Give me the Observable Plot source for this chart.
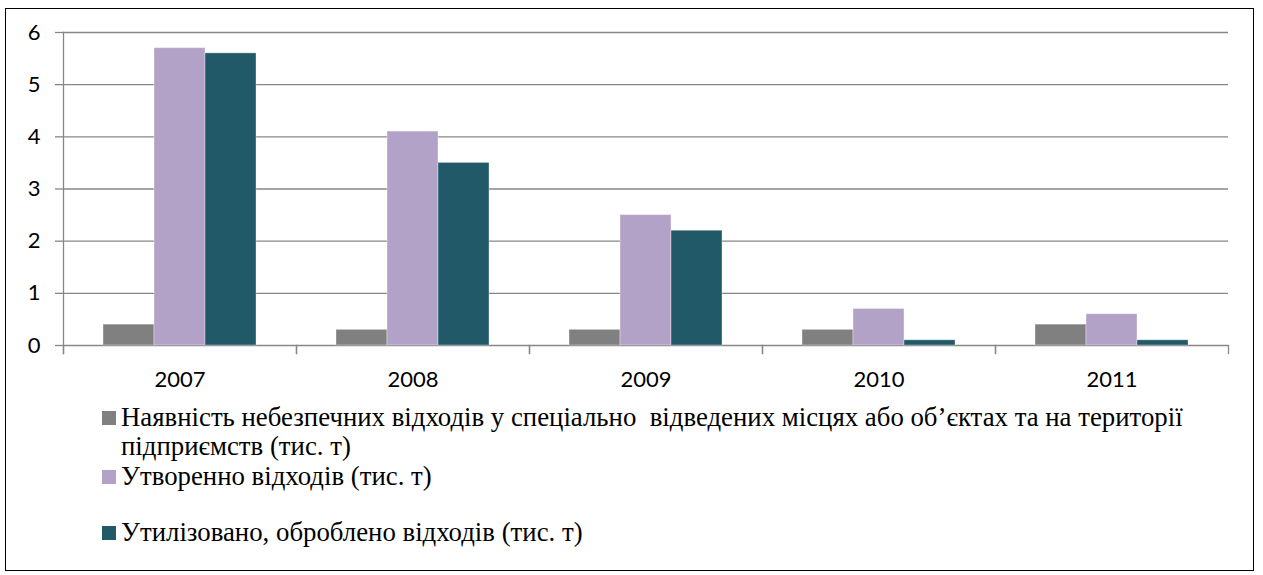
<!DOCTYPE html>
<html><head><meta charset="utf-8">
<script src="https://cdn.jsdelivr.net/npm/d3@7"></script>
<script src="https://cdn.jsdelivr.net/npm/@observablehq/plot@0.6"></script>
<style>
html,body{margin:0;padding:0;background:#fff;}
#wrap{position:relative;width:1263px;height:575px;overflow:hidden;}
#border{position:absolute;left:5px;top:8px;width:1249px;height:563px;box-sizing:border-box;border:1.5px solid #000;}
#chart{position:absolute;left:0;top:0;}
</style></head><body>
<div id="wrap">
  <div id="border"></div>
  <div id="chart"></div>
  <div id="legend" style="position:absolute;left:102px;top:0;color:#000;"></div>
</div>
<script>
const years = ["2007", "2008", "2009", "2010", "2011"];
const seriesNames = [
  "Наявність небезпечних відходів у спеціально  відведених місцях або об’єктах та на території підприємств (тис. т)",
  "Утворенно відходів (тис. т)",
  "Утилізовано, оброблено відходів (тис. т)"
];
const hazardous = [0.4, 0.3, 0.3, 0.3, 0.4];
const generated = [5.7, 4.1, 2.5, 0.7, 0.6];
const utilized  = [5.6, 3.5, 2.2, 0.1, 0.1];
const seriesColors = ["#808080", "#B3A2C7", "#215968"];
const yTicks = [0, 1, 2, 3, 4, 5, 6];

const seriesValues = [hazardous, generated, utilized];
const data = years.flatMap((year, i) =>
  seriesValues.map((vals, k) => ({year, series: seriesNames[k], value: vals[i]}))
);

const gridColor = "#878787";
const H = 395, MT = 32, MB = 50;
const plotH = H - MT - MB;
const axisFont = "Lato";

const chart = Plot.plot({
  width: 1263,
  height: H,
  marginLeft: 63,
  marginRight: 35,
  marginTop: MT,
  marginBottom: MB,
  style: "font-family: Lato; font-size: 22px; color: #000; background: transparent; overflow: visible;",
  fx: {domain: years, padding: 0},
  x: {domain: seriesNames, paddingInner: 0, paddingOuter: 0.78, axis: null},
  y: {domain: [0, 6]},
  color: {domain: seriesNames, range: seriesColors},
  marks: [
    Plot.ruleY(yTicks, {stroke: gridColor, strokeWidth: 1.3}),
    Plot.frame({anchor: "left", facetAnchor: "left", stroke: gridColor, strokeWidth: 1.3, insetBottom: -8}),
    Plot.frame({anchor: "left", stroke: gridColor, strokeWidth: 1.3, insetTop: plotH, insetBottom: -8}),
    Plot.frame({anchor: "right", stroke: gridColor, strokeWidth: 1.3, insetTop: plotH, insetBottom: -8}),
    Plot.barY(data, {fx: "year", x: "series", y: "value", fill: "series", stroke: "#ffffff", strokeOpacity: 0.35, strokeWidth: 1}),
    Plot.axisY({ticks: yTicks, tickFormat: "d", anchor: "left", tickSize: 8, tickPadding: 15, stroke: gridColor, fill: "#000", strokeWidth: 1.3, label: null, fontSize: 22, fontFamily: axisFont}),
    Plot.axisFx({anchor: "bottom", tickSize: 0, tickPadding: 26, label: null, fill: "#000", fontSize: 22, fontFamily: axisFont})
  ]
});
document.getElementById("chart").appendChild(chart);

// legend (one entry per series, in series order)
const legend = document.getElementById("legend");
const legendLines = [
  ["Наявність небезпечних відходів у спеціально  відведених місцях або об’єктах та на території", "підприємств (тис. т)"],
  ["Утворенно відходів (тис. т)"],
  ["Утилізовано, оброблено відходів (тис. т)"]
];
const legendTops = [403, 462, 518];
legendLines.forEach((lines, k) => {
  const item = document.createElement("div");
  item.setAttribute("style", "position:absolute;left:0;top:" + legendTops[k] + "px;padding-left:19px;white-space:pre;");
  const sw = document.createElement("span");
  sw.setAttribute("style", "position:absolute;left:0;top:8px;width:14px;height:14px;background:" + seriesColors[k] + ";");
  item.appendChild(sw);
  lines.forEach(t => {
    const d = document.createElement("div");
    d.setAttribute("style", "font-family:'Liberation Serif';font-size:26.8px;line-height:29px;");
    d.textContent = t;
    item.appendChild(d);
  });
  legend.appendChild(item);
});
</script>
</body></html>
